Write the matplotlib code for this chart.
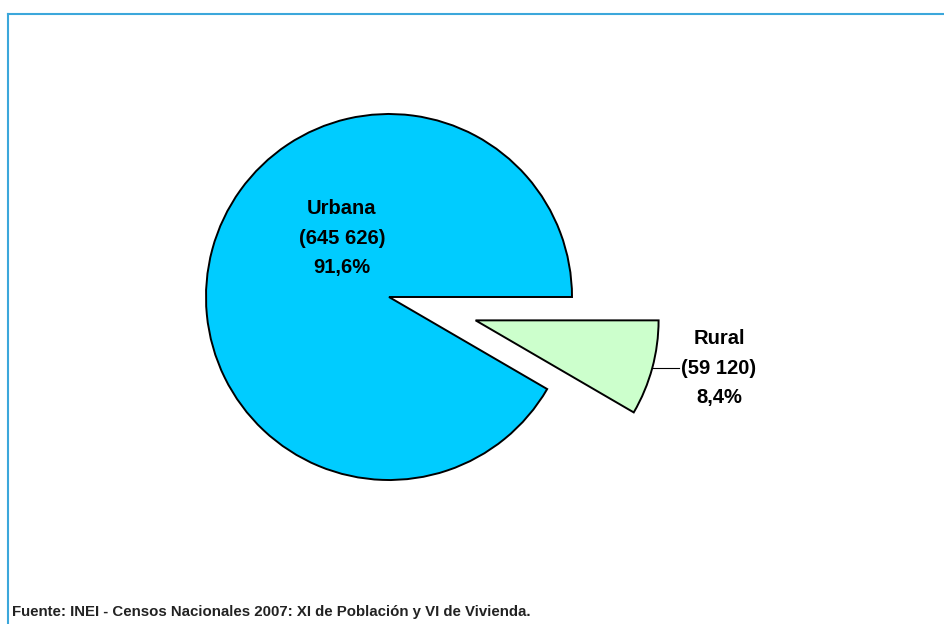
import matplotlib.pyplot as plt
from matplotlib.lines import Line2D
import numpy as np

labels = ['Urbana', 'Rural']
values = [645626, 59120]
colors = ['#00CCFF', '#CCFFCC']
explode_frac = [0, 0.49]
source = 'Fuente: INEI - Censos Nacionales 2007: XI de Población y VI de Vivienda.'

plt.rcParams['font.family'] = ['Liberation Sans Narrow', 'Liberation Sans', 'DejaVu Sans']

fig = plt.figure(figsize=(9.44, 6.24), dpi=100)
ax = fig.add_axes([0, 0, 1, 1])
ax.axis('off')

cx, cy, r = 389, 327, 183
# matplotlib's explode is in data units, so scale by the radius
wedges, _ = ax.pie(values, colors=colors, explode=[e * r for e in explode_frac],
                   startangle=0, counterclock=True, center=(cx, cy), radius=r,
                   wedgeprops=dict(edgecolor='black', linewidth=1.4))
ax.set_xlim(0, 944)
ax.set_ylim(0, 624)
ax.set_aspect('equal')


def fmt_num(v):
    return f'{v:,}'.replace(',', ' ')


total = sum(values)
pcts = [f'{v / total * 100:.1f}%'.replace('.', ',') for v in values]

# Urbana label inside the slice
ax.text(342, 624 - 238, f'{labels[0]}\n({fmt_num(values[0])})\n{pcts[0]}',
        ha='center', va='center', fontsize=14.5, fontweight='bold',
        linespacing=1.7)

# Rural label outside with leader line
w = wedges[1]
mid = np.deg2rad((w.theta1 + w.theta2) / 2)
wx, wy = w.center
ax.plot([wx + r * np.cos(mid), 679], [wy + r * np.sin(mid)] * 2,
        color='black', linewidth=0.8)
ax.text(719, 624 - 368, f'{labels[1]}\n({fmt_num(values[1])})\n{pcts[1]}',
        ha='center', va='center', fontsize=14.5, fontweight='bold',
        linespacing=1.7)

fig.text(12 / 944, 1 - 612 / 624, source, ha='left', va='center',
         fontsize=10.8, fontweight='bold', color='#222222')

# frame lines (top and left only)
fig.add_artist(Line2D([8 / 944, 1], [1 - 14 / 624] * 2,
                      transform=fig.transFigure, color='#3BA7DB', linewidth=1.5))
fig.add_artist(Line2D([8 / 944] * 2, [0, 1 - 14 / 624],
                      transform=fig.transFigure, color='#3BA7DB', linewidth=1.5))

fig.savefig('out.png', dpi=100)
